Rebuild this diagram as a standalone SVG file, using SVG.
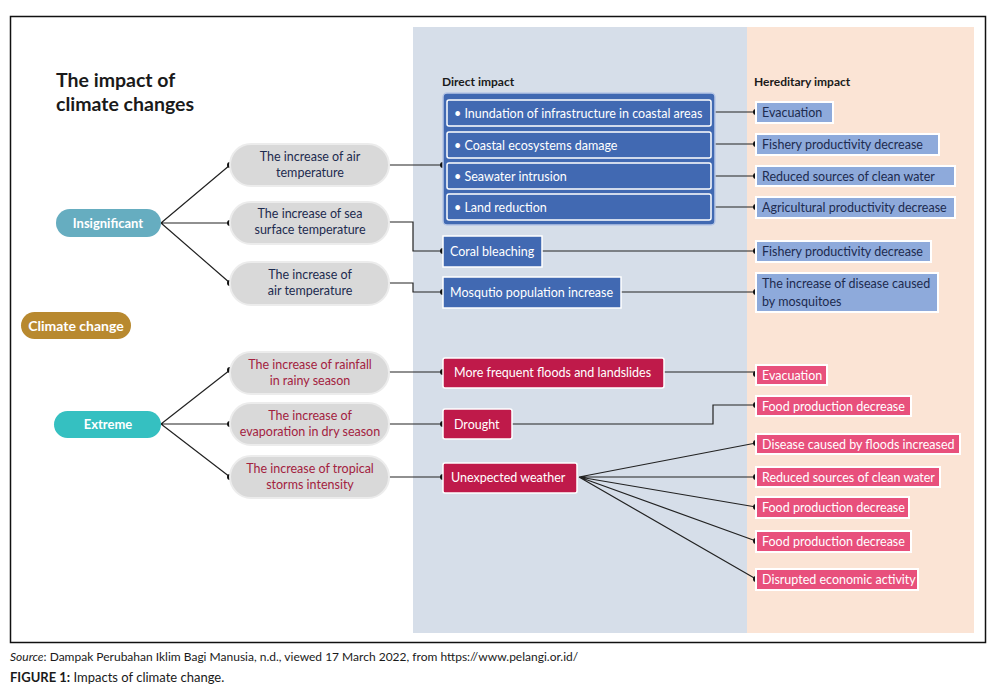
<svg xmlns="http://www.w3.org/2000/svg" width="998" height="695" viewBox="0 0 998 695">
<style>
text{font-family:Lato,"Open Sans","Liberation Sans",sans-serif}
.pill{fill:#d9d9d9;stroke:#ececec;stroke-width:2}
.pt{font-size:12.5px;fill:#1d2b4f;text-anchor:middle}
.pr{font-size:12.5px;fill:#a3223f;text-anchor:middle}
.bb{fill:#4169b2;stroke:#ffffff;stroke-width:1.5}
.wt{font-size:12.5px;fill:#ffffff}
.lb{fill:#8eaadb;stroke:#ffffff;stroke-width:2}
.dt{font-size:12.5px;fill:#1d2b4f}
.cr{fill:#bf1a4a;stroke:#ffffff;stroke-width:1.5}
.pk{fill:#e8507c;stroke:#ffffff;stroke-width:2}
.ln{fill:none;stroke:#222;stroke-width:1.2}
.dot{fill:#111}
.hd{font-size:12px;font-weight:bold;fill:#1a1a1a}
</style>
<rect x="0" y="0" width="998" height="695" fill="#ffffff"/>
<g id="frame">
<rect x="413" y="27" width="334" height="606" fill="#d6dee9"/>
<rect x="747" y="27" width="227" height="606" fill="#fbe4d5"/>
<rect x="10.5" y="16.5" width="975" height="626" fill="none" stroke="#111" stroke-width="1.5"/>
</g>
<g id="title">
<text x="56" y="87" font-size="19.5" font-weight="bold" fill="#1a1a1a">The impact of</text>
<text x="56" y="111" font-size="19.5" font-weight="bold" fill="#1a1a1a">climate changes</text>
<text class="hd" x="442" y="86">Direct impact</text>
<text class="hd" x="754" y="86">Hereditary impact</text>
</g>
<g id="connectors">
<path class="ln" d="M161 223 L230 165 M161 223 L230 223 M161 223 L230 283"/>
<path class="ln" d="M161 424 L230 370 M161 424 L230 424 M161 424 L230 477"/>
<path class="ln" d="M389 165 H443 M389 222 H413 V251 H443 M389 283 H413 V292 H443"/>
<path class="ln" d="M389 372 H443 M389 424 H443 M389 477 H443"/>
<path class="ln" d="M711 112 H756 M711 144 H756 M711 176 H756 M711 207 H756 M542 251 H756 M621 292 H756"/>
<path class="ln" d="M664 372 H756 M512 424 H713 V405 H756"/>
<path class="ln" d="M579 477 L756 443 M579 477 L756 477 M579 477 L756 507 M579 477 L756 541 M579 477 L756 579"/>
<g class="dot">
<circle cx="230" cy="165" r="3"/><circle cx="230" cy="223" r="3"/><circle cx="230" cy="283" r="3"/>
<circle cx="230" cy="370" r="3"/><circle cx="230" cy="424" r="3"/><circle cx="230" cy="477" r="3"/>
<circle cx="443" cy="165" r="3"/><circle cx="443" cy="251" r="3"/><circle cx="443" cy="292" r="3"/>
<circle cx="443" cy="372" r="3"/><circle cx="443" cy="424" r="3"/><circle cx="443" cy="477" r="3"/>
<circle cx="756" cy="112" r="3"/><circle cx="756" cy="144" r="3"/><circle cx="756" cy="176" r="3"/><circle cx="756" cy="207" r="3"/><circle cx="756" cy="251" r="3"/><circle cx="756" cy="292" r="3"/>
<circle cx="756" cy="374" r="3"/><circle cx="756" cy="405" r="3"/><circle cx="756" cy="443" r="3"/><circle cx="756" cy="477" r="3"/><circle cx="756" cy="507" r="3"/><circle cx="756" cy="541" r="3"/><circle cx="756" cy="579" r="3"/>
</g>
</g>
<g id="insignificant"><rect x="56" y="209" width="105" height="28" rx="14" fill="#66adc0"/><text x="108" y="227.5" font-size="13" font-weight="bold" fill="#fff" text-anchor="middle">Insignificant</text></g>
<g id="climate-change"><rect x="21" y="312" width="110" height="27" rx="13.5" fill="#b8892f"/><text x="76" y="330.5" font-size="14" font-weight="bold" fill="#fff" text-anchor="middle">Climate change</text></g>
<g id="extreme"><rect x="54" y="411" width="107" height="27" rx="13.5" fill="#35c0c1"/><text x="108" y="428.5" font-size="13" font-weight="bold" fill="#fff" text-anchor="middle">Extreme</text></g>
<g id="cause1"><rect class="pill" x="230" y="144" width="159" height="42" rx="21"/><text class="pt" x="310" y="161">The increase of air</text><text class="pt" x="310" y="177">temperature</text></g>
<g id="cause2"><rect class="pill" x="230" y="202" width="159" height="42" rx="21"/><text class="pt" x="310" y="218">The increase of sea</text><text class="pt" x="310" y="234">surface temperature</text></g>
<g id="cause3"><rect class="pill" x="230" y="262" width="159" height="43" rx="21"/><text class="pt" x="310" y="279">The increase of</text><text class="pt" x="310" y="295">air temperature</text></g>
<g id="cause4"><rect class="pill" x="230" y="352" width="159" height="42" rx="21"/><text class="pr" x="310" y="369">The increase of rainfall</text><text class="pr" x="310" y="385">in rainy season</text></g>
<g id="cause5"><rect class="pill" x="230" y="403" width="159" height="42" rx="21"/><text class="pr" x="310" y="420">The increase of</text><text class="pr" x="310" y="436">evaporation in dry season</text></g>
<g id="cause6"><rect class="pill" x="230" y="456" width="159" height="42" rx="21"/><text class="pr" x="310" y="473">The increase of tropical</text><text class="pr" x="310" y="489">storms intensity</text></g>
<g id="coastal-group">
<rect x="443" y="93" width="272" height="132" rx="4" fill="#4169b2" stroke="#b9c8e6" stroke-width="1.5"/>
<rect class="bb" x="447" y="100" width="264" height="26" rx="2"/><text class="wt" x="454" y="117.5">• Inundation of infrastructure in coastal areas</text>
<rect class="bb" x="447" y="132" width="264" height="26" rx="2"/><text class="wt" x="454" y="149.5">• Coastal ecosystems damage</text>
<rect class="bb" x="447" y="163" width="264" height="26" rx="2"/><text class="wt" x="454" y="180.5">• Seawater intrusion</text>
<rect class="bb" x="447" y="194" width="264" height="26" rx="2"/><text class="wt" x="454" y="211.5">• Land reduction</text>
</g>
<g id="coral"><rect class="bb" x="443" y="236" width="99" height="31"/><text class="wt" x="450" y="256">Coral bleaching</text></g>
<g id="mosquito"><rect class="bb" x="443" y="277" width="178" height="31"/><text class="wt" x="450" y="297">Mosqutio population increase</text></g>
<g id="h1"><rect class="lb" x="756" y="102" width="77" height="21"/><text class="dt" x="762" y="117">Evacuation</text></g>
<g id="h2"><rect class="lb" x="756" y="134" width="183" height="21"/><text class="dt" x="762" y="149">Fishery productivity decrease</text></g>
<g id="h3"><rect class="lb" x="756" y="166" width="199" height="20"/><text class="dt" x="762" y="180.5">Reduced sources of clean water</text></g>
<g id="h4"><rect class="lb" x="756" y="197" width="199" height="21"/><text class="dt" x="762" y="212">Agricultural productivity decrease</text></g>
<g id="h5"><rect class="lb" x="756" y="241" width="175" height="21"/><text class="dt" x="762" y="256">Fishery productivity decrease</text></g>
<g id="h6"><rect class="lb" x="756" y="273" width="182" height="39"/><text class="dt" x="762" y="287.5">The increase of disease caused</text><text class="dt" x="762" y="305.5">by mosquitoes</text></g>
<g id="floods"><rect class="cr" x="443" y="358" width="221" height="30" rx="2"/><text class="wt" x="454" y="377">More frequent floods and landslides</text></g>
<g id="drought"><rect class="cr" x="443" y="409" width="69" height="30" rx="2"/><text class="wt" x="454" y="428.5">Drought</text></g>
<g id="weather"><rect class="cr" x="443" y="463" width="134" height="30" rx="2"/><text class="wt" x="451" y="482">Unexpected weather</text></g>
<g id="p1"><rect class="pk" x="756" y="365" width="71" height="20"/><text class="wt" x="762" y="379.5">Evacuation</text></g>
<g id="p2"><rect class="pk" x="756" y="396" width="155" height="20"/><text class="wt" x="762" y="410.5">Food production decrease</text></g>
<g id="p3"><rect class="pk" x="756" y="434" width="204" height="20"/><text class="wt" x="762" y="448.5">Disease caused by floods increased</text></g>
<g id="p4"><rect class="pk" x="756" y="467" width="184" height="20"/><text class="wt" x="762" y="481.5">Reduced sources of clean water</text></g>
<g id="p5"><rect class="pk" x="756" y="497" width="153" height="21"/><text class="wt" x="762" y="512">Food production decrease</text></g>
<g id="p6"><rect class="pk" x="756" y="531" width="155" height="21"/><text class="wt" x="762" y="546">Food production decrease</text></g>
<g id="p7"><rect class="pk" x="756" y="569" width="162" height="21"/><text class="wt" x="762" y="584">Disrupted economic activity</text></g>
<g id="caption">
<text x="10" y="661" font-size="12" fill="#1a1a1a"><tspan font-style="italic">Source</tspan>: Dampak Perubahan Iklim Bagi Manusia, n.d., viewed 17 March 2022, from https://www.pelangi.or.id/</text>
<text x="10" y="682" font-size="13" fill="#1a1a1a"><tspan font-weight="bold">FIGURE 1:</tspan> Impacts of climate change.</text>
</g>
</svg>
